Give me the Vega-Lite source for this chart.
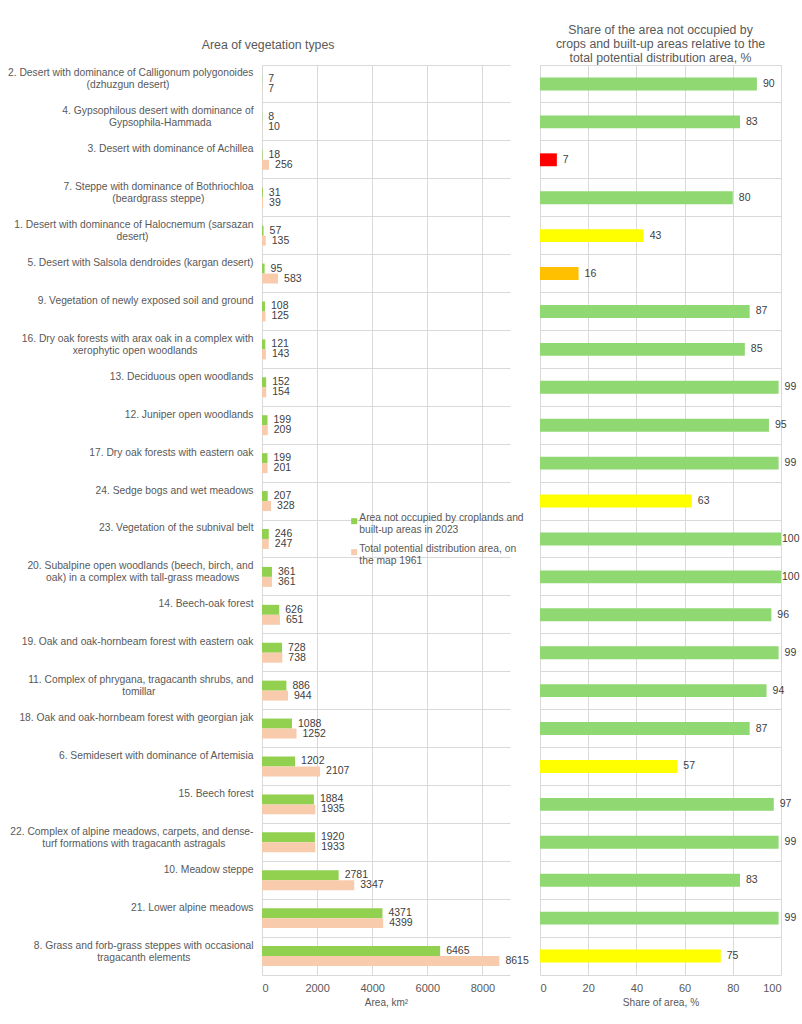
{
  "$schema": "https://vega.github.io/schema/vega-lite/v6.json",
  "background": "white",
  "padding": {"left": 7, "top": 23, "right": 0, "bottom": 0},
  "datasets": {
    "veg": [
      {"name": "2. Desert with dominance of Calligonum polygonoides|(dzhuzgun desert)\u2800\u2800\u2800\u2800\u2800\u2800\u2800\u2800\u2800\u2800\u2800\u2800", "a2023": 7, "total": 7, "share": 90, "cls": "green"},
      {"name": "4. Gypsophilous desert with dominance of|Gypsophila-Hammada\u2800\u2800\u2800\u2800\u2800\u2800", "a2023": 8, "total": 10, "share": 83, "cls": "green"},
      {"name": "3.  Desert with dominance of Achillea", "a2023": 18, "total": 256, "share": 7, "cls": "red"},
      {"name": "7. Steppe with dominance of Bothriochloa|(beardgrass steppe)\u2800\u2800\u2800\u2800\u2800\u2800\u2800", "a2023": 31, "total": 39, "share": 80, "cls": "green"},
      {"name": "1. Desert with dominance of Halocnemum (sarsazan|desert)\u2800\u2800\u2800\u2800\u2800\u2800\u2800\u2800\u2800\u2800\u2800\u2800\u2800\u2800\u2800", "a2023": 57, "total": 135, "share": 43, "cls": "yellow"},
      {"name": "5. Desert with Salsola dendroides (kargan desert)", "a2023": 95, "total": 583, "share": 16, "cls": "orange"},
      {"name": "9. Vegetation of newly exposed soil and ground", "a2023": 108, "total": 125, "share": 87, "cls": "green"},
      {"name": "16. Dry oak forests with arax oak in a complex with|xerophytic open woodlands\u2800\u2800\u2800\u2800\u2800\u2800\u2800\u2800", "a2023": 121, "total": 143, "share": 85, "cls": "green"},
      {"name": "13. Deciduous open woodlands", "a2023": 152, "total": 154, "share": 99, "cls": "green"},
      {"name": "12. Juniper open woodlands", "a2023": 199, "total": 209, "share": 95, "cls": "green"},
      {"name": "17. Dry oak forests with eastern oak", "a2023": 199, "total": 201, "share": 99, "cls": "green"},
      {"name": "24. Sedge bogs and wet meadows", "a2023": 207, "total": 328, "share": 63, "cls": "yellow"},
      {"name": "23. Vegetation of the subnival belt", "a2023": 246, "total": 247, "share": 100, "cls": "green"},
      {"name": "20. Subalpine open woodlands (beech, birch, and|oak) in a complex with tall-grass meadows\u2800\u2800", "a2023": 361, "total": 361, "share": 100, "cls": "green"},
      {"name": "14. Beech-oak forest", "a2023": 626, "total": 651, "share": 96, "cls": "green"},
      {"name": "19. Oak and oak-hornbeam forest with eastern oak", "a2023": 728, "total": 738, "share": 99, "cls": "green"},
      {"name": "11. Complex of phrygana, tragacanth shrubs, and|tomillar\u2800\u2800\u2800\u2800\u2800\u2800\u2800\u2800\u2800\u2800\u2800\u2800\u2800\u2800", "a2023": 886, "total": 944, "share": 94, "cls": "green"},
      {"name": "18. Oak and oak-hornbeam forest with georgian jak", "a2023": 1088, "total": 1252, "share": 87, "cls": "green"},
      {"name": "6. Semidesert with dominance of Artemisia", "a2023": 1202, "total": 2107, "share": 57, "cls": "yellow"},
      {"name": "15. Beech forest", "a2023": 1884, "total": 1935, "share": 97, "cls": "green"},
      {"name": "22. Complex of alpine meadows, carpets, and dense-|turf formations with tragacanth astragals\u2800\u2800\u2800\u2800", "a2023": 1920, "total": 1933, "share": 99, "cls": "green"},
      {"name": "10. Meadow steppe", "a2023": 2781, "total": 3347, "share": 83, "cls": "green"},
      {"name": "21. Lower alpine meadows", "a2023": 4371, "total": 4399, "share": 99, "cls": "green"},
      {"name": "8. Grass and forb-grass steppes with occasional|tragacanth elements\u2800\u2800\u2800\u2800\u2800\u2800\u2800\u2800\u2800", "a2023": 6465, "total": 8615, "share": 75, "cls": "yellow"}
    ]
  },
  "data": {"name": "veg"},
  "bounds": "flush",
  "spacing": 30,
  "resolve": {"scale": {"color": "independent"}, "legend": {"color": "independent"}},
  "hconcat": [
    {
      "width": 248,
      "height": 910,
      "title": {"text": "Area of vegetation types", "offset": 14, "frame": "bounds"},
      "transform": [{"fold": ["a2023", "total"], "as": ["series", "value"]}],
      "encoding": {
        "y": {
          "field": "name",
          "type": "nominal",
          "sort": null,
          "scale": {"paddingInner": 0, "paddingOuter": 0},
          "axis": {
            "title": null,
            "bandPosition": 0,
            "labelExpr": "split(datum.label, '|')",
            "labelBaseline": "top",
            "labelOffset": -15.5,
            "labelPadding": 9,
            "labelFontSize": 10.3,
            "labelLineHeight": 12,
            "labelLimit": 300,
            "ticks": false,
            "domain": false,
            "grid": true
          }
        },
        "yOffset": {"field": "series", "type": "nominal", "scale": {"paddingInner": 0, "paddingOuter": 0.9}},
        "x": {
          "field": "value",
          "type": "quantitative",
          "scale": {"domain": [0, 9000], "nice": false},
          "axis": {"title": "Area, km²", "values": [0, 2000, 4000, 6000, 8000], "format": "d", "ticks": false, "labelPadding": 7, "titlePadding": 4}
        }
      },
      "layer": [
        {
          "mark": {"type": "bar"},
          "encoding": {
            "color": {
              "field": "series",
              "type": "nominal",
              "scale": {"domain": ["a2023", "total"], "range": ["#92d050", "#f8cbad"]},
              "legend": {
                "orient": "none",
                "legendX": 87,
                "legendY": 451,
                "title": null,
                "padding": 0,
                "symbolType": "square",
                "symbolSize": 36,
                "symbolStrokeWidth": 0,
                "labelOffset": 0,
                "labelLimit": 220,
                "labelBaseline": "alphabetic",
                "labelLineHeight": 13,
                "rowPadding": 8,
                "labelExpr": "datum.value == 'a2023' ? ['Area not occupied by croplands and', 'built-up areas in 2023'] : ['Total potential distribution area, on', 'the map 1961']"
              }
            }
          }
        },
        {
          "mark": {"type": "text", "align": "left", "baseline": "middle", "dx": 6, "fontSize": 10.5, "color": "#404040"},
          "encoding": {"text": {"field": "value", "type": "quantitative", "format": "d"}}
        }
      ]
    },
    {
      "width": 241,
      "height": 910,
      "title": {"text": ["Share of the area not occupied by", "crops and built-up  areas relative to the", "total potential distribution area, %"], "offset": 1},
      "encoding": {
        "y": {
          "field": "name",
          "type": "nominal",
          "sort": null,
          "scale": {"paddingInner": 0, "paddingOuter": 0},
          "axis": {"title": null, "labels": false, "ticks": false, "domain": false, "bandPosition": 0, "grid": true}
        },
        "x": {
          "field": "share",
          "type": "quantitative",
          "scale": {"domain": [0, 100], "nice": false},
          "axis": {"title": "Share of area, %", "titleFontSize": 10.2, "values": [0, 20, 40, 60, 80, 100], "format": "d", "ticks": false, "labelPadding": 7, "titlePadding": 4}
        }
      },
      "layer": [
        {
          "mark": {"type": "bar", "height": {"band": 0.34}},
          "encoding": {
            "color": {
              "field": "cls",
              "type": "nominal",
              "scale": {"domain": ["green", "yellow", "orange", "red"], "range": ["#8fd872", "#ffff00", "#ffc000", "#ff0000"]},
              "legend": null
            }
          }
        },
        {
          "transform": [{"filter": "datum.share < 100"}],
          "mark": {"type": "text", "align": "left", "baseline": "middle", "dx": 6, "fontSize": 10.5, "color": "#404040"},
          "encoding": {"text": {"field": "share", "type": "quantitative", "format": "d"}}
        },
        {
          "transform": [{"filter": "datum.share >= 100"}],
          "mark": {"type": "text", "align": "left", "baseline": "middle", "dx": 1, "fontSize": 10.5, "color": "#404040"},
          "encoding": {"text": {"field": "share", "type": "quantitative", "format": "d"}}
        }
      ]
    }
  ],
  "config": {
    "font": "Liberation Sans",
    "view": {"stroke": null},
    "axis": {
      "labelColor": "#595959",
      "labelFontSize": 11,
      "titleColor": "#595959",
      "titleFontSize": 10,
      "titleFontWeight": "normal",
      "gridColor": "#d9d9d9",
      "domainColor": "#d9d9d9"
    },
    "title": {"fontSize": 12.3, "fontWeight": "normal", "color": "#595959", "lineHeight": 14},
    "legend": {"labelColor": "#595959", "labelFontSize": 10.3}
  }
}
